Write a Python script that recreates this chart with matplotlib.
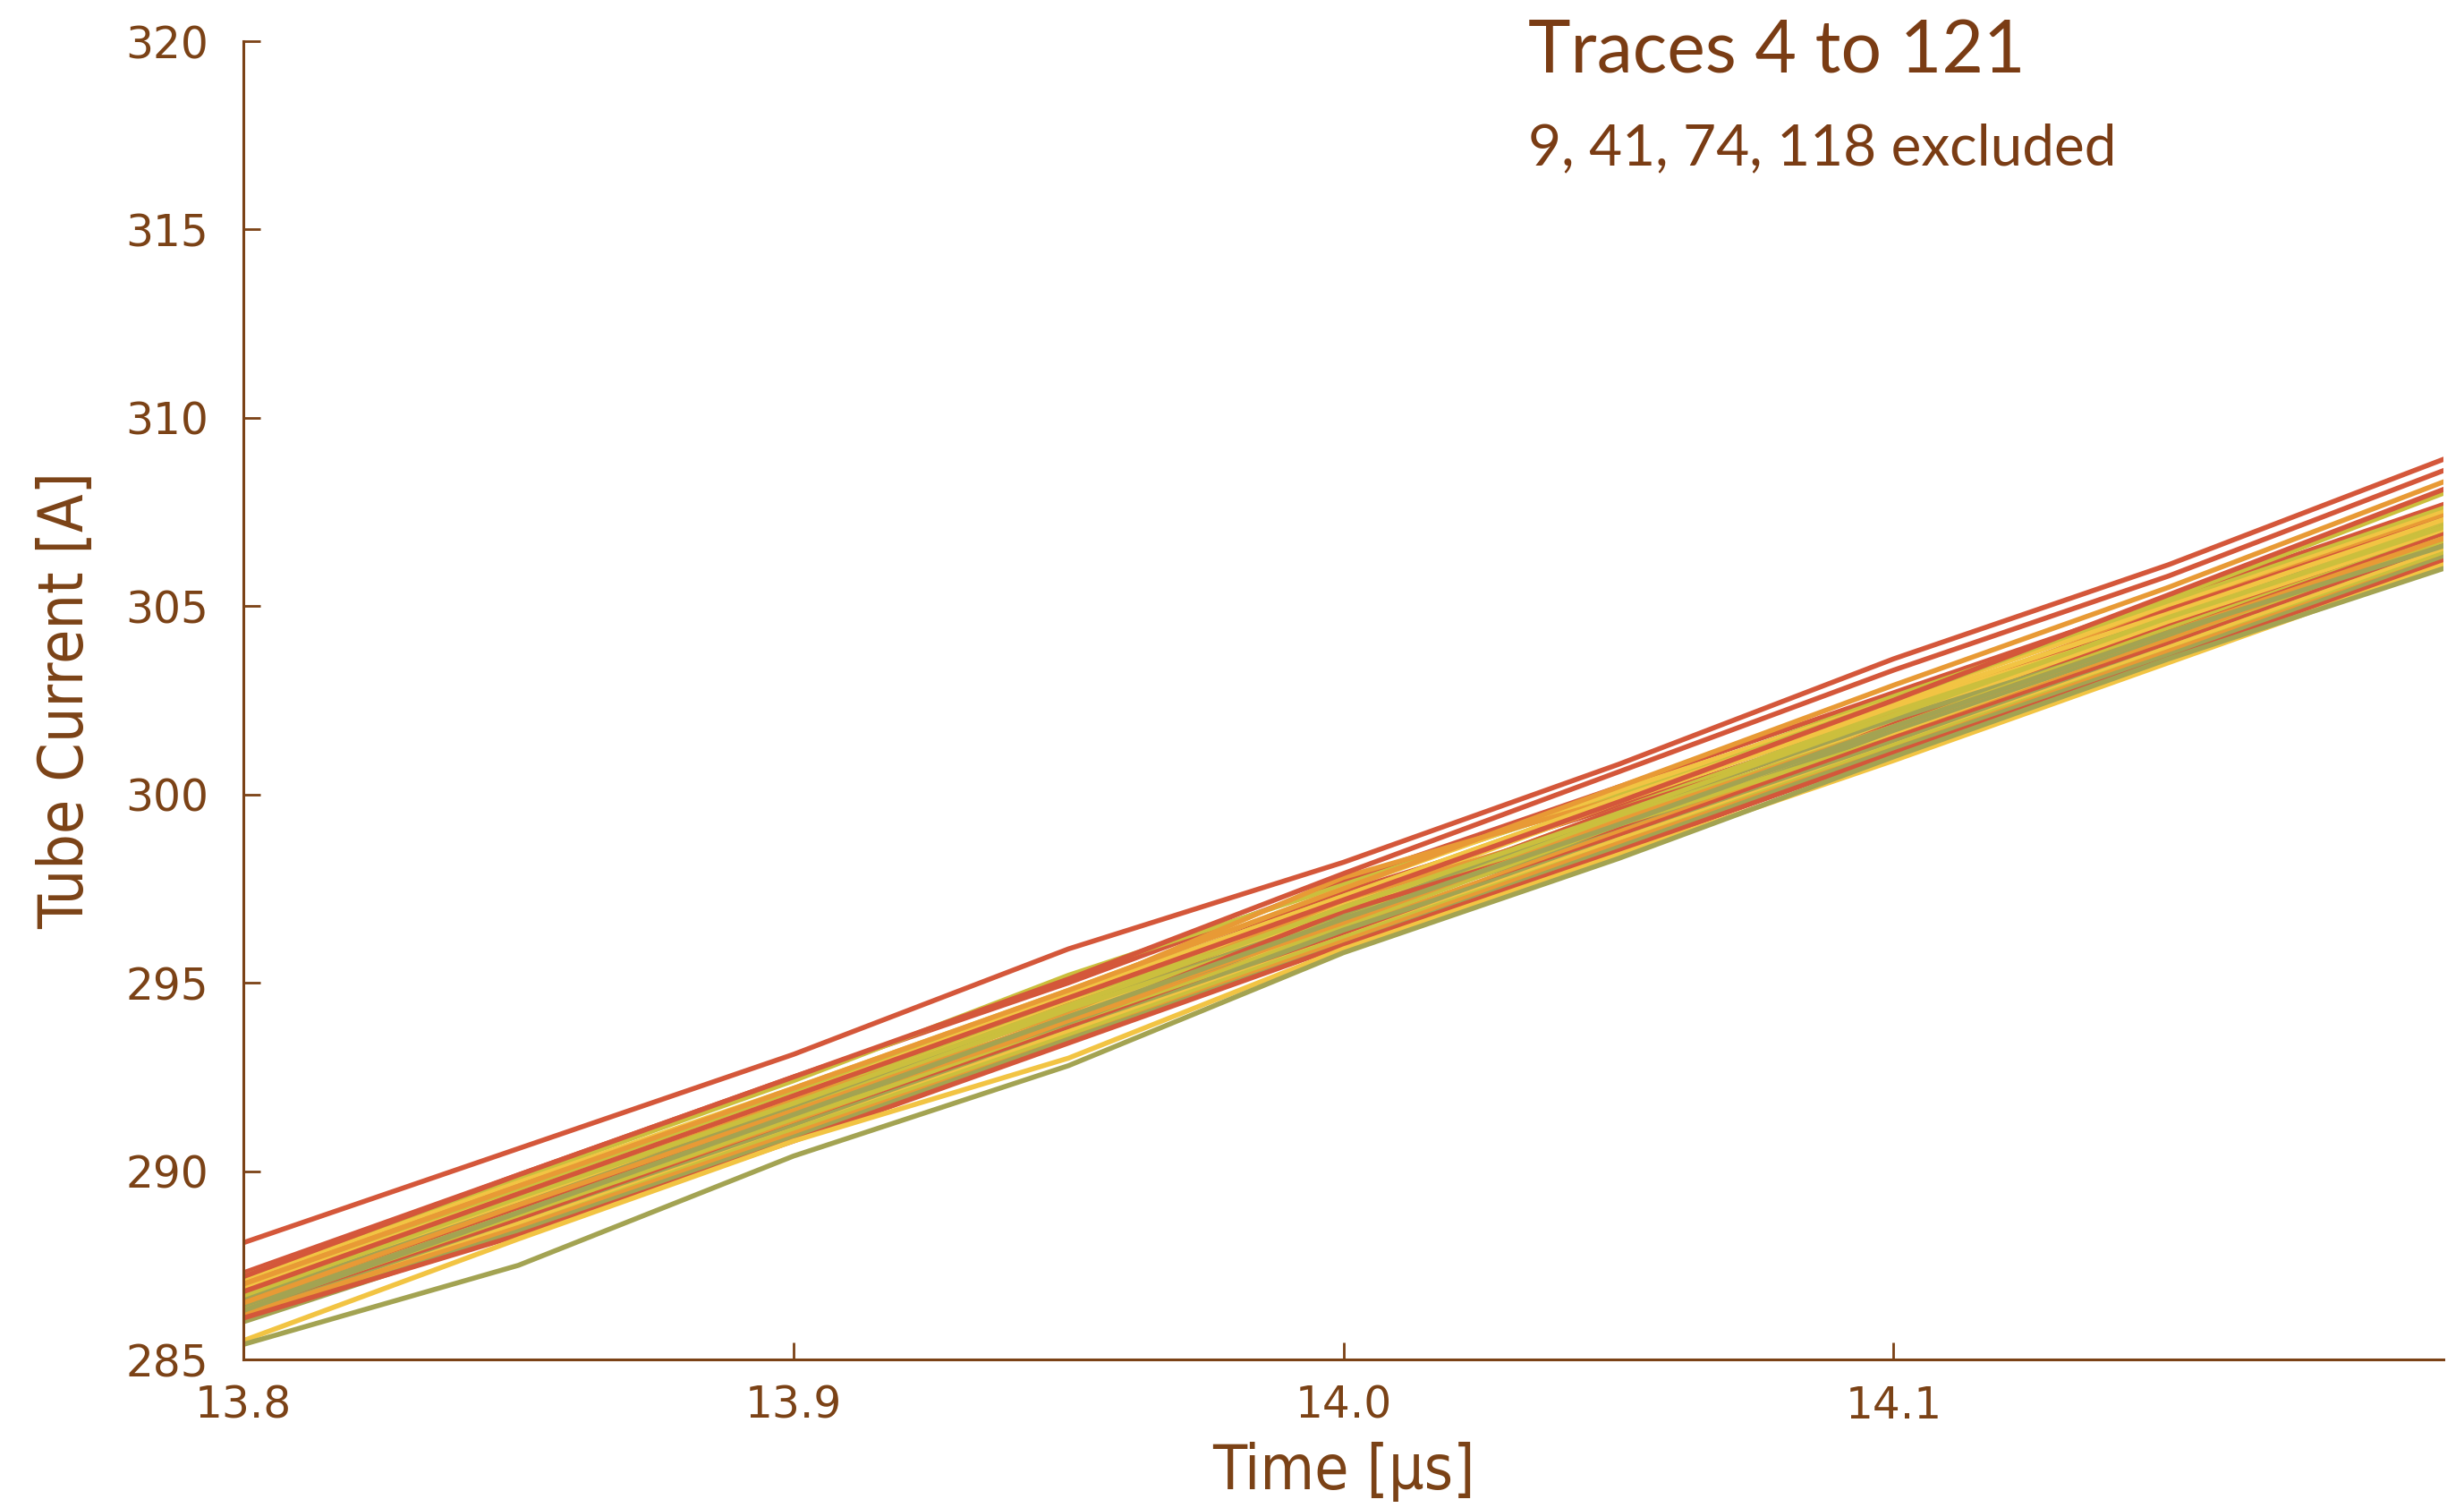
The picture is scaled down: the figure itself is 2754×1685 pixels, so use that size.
import numpy as np
import matplotlib.pyplot as plt

# time samples [us]
t = [13.80, 13.85, 13.90, 13.95, 14.00, 14.05, 14.10, 14.15, 14.20]

# tube current traces [A], one row per trace
traces = [
    [287.3, 289.9, 292.5, 295.0, 297.7, 300.2, 302.7, 305.2, 307.7],
    [287.2, 289.8, 292.4, 295.2, 297.6, 300.0, 302.6, 305.1, 307.6],
    [287.1, 289.7, 292.2, 294.8, 297.5, 300.1, 302.5, 305.0, 307.5],
    [287.0, 289.6, 292.1, 294.7, 297.8, 299.9, 302.3, 304.9, 307.4],
    [286.9, 289.4, 292.0, 294.5, 297.2, 299.9, 302.2, 304.7, 307.3],
    [286.9, 289.5, 292.1, 294.6, 297.4, 299.7, 302.1, 304.9, 307.3],
    [286.8, 289.3, 291.9, 294.5, 297.1, 299.8, 302.3, 304.6, 307.2],
    [286.8, 289.4, 291.9, 294.6, 296.9, 299.6, 302.2, 304.6, 307.2],
    [286.7, 289.2, 291.8, 294.3, 297.0, 299.5, 302.0, 304.5, 307.1],
    [286.7, 289.2, 291.9, 294.2, 297.2, 299.4, 302.1, 304.4, 307.1],
    [286.6, 289.1, 291.7, 294.4, 296.9, 299.6, 301.9, 304.5, 307.0],
    [286.6, 289.2, 291.6, 294.1, 297.0, 299.2, 302.0, 304.6, 307.0],
    [286.6, 289.1, 291.7, 294.3, 296.8, 299.5, 302.0, 304.3, 306.9],
    [286.5, 289.0, 291.6, 294.3, 296.7, 299.4, 301.8, 304.4, 306.9],
    [286.5, 289.0, 291.5, 294.0, 296.9, 299.1, 301.7, 304.3, 306.9],
    [286.4, 288.9, 291.4, 294.0, 296.5, 299.3, 301.6, 304.2, 306.8],
    [286.4, 288.9, 291.5, 293.9, 296.7, 299.0, 301.7, 304.2, 306.8],
    [286.3, 288.8, 291.3, 294.0, 296.4, 299.0, 301.5, 304.1, 306.7],
    [286.3, 288.8, 291.4, 293.8, 296.5, 299.2, 301.5, 304.0, 306.7],
    [286.2, 288.7, 291.2, 293.8, 296.3, 298.9, 301.5, 304.0, 306.6],
    [286.2, 288.6, 291.2, 293.7, 296.4, 298.8, 301.4, 303.9, 306.5],
    [286.1, 288.6, 291.1, 293.7, 296.2, 298.8, 301.3, 303.9, 306.5],
    [286.1, 288.5, 291.1, 293.6, 296.2, 298.7, 301.3, 303.8, 306.4],
    [286.2, 288.5, 291.0, 293.5, 296.1, 298.7, 301.2, 303.8, 306.3],
    [286.0, 288.4, 290.9, 293.5, 296.0, 298.6, 301.2, 303.7, 306.3],
    [286.1, 288.3, 290.8, 293.4, 296.0, 298.5, 301.1, 303.6, 306.2],
    [285.5, 288.2, 290.8, 293.0, 295.9, 298.4, 300.9, 303.5, 306.1],
    [286.9, 289.5, 292.1, 294.7, 297.3, 299.9, 302.5, 305.2, 308.0],
    [286.9, 289.4, 292.0, 294.7, 297.3, 299.9, 302.4, 304.8, 307.3],
    [286.5, 289.1, 291.6, 294.1, 296.6, 299.3, 301.8, 304.3, 306.8],
    [286.7, 289.3, 291.8, 294.4, 297.0, 299.5, 302.1, 304.7, 307.1],
    [286.3, 288.9, 291.5, 294.1, 296.7, 299.2, 301.8, 304.3, 306.6],
    [285.4, 287.5, 290.4, 292.8, 295.8, 298.3, 301.0, 303.6, 306.0],
    [286.8, 289.4, 292.0, 294.6, 297.2, 299.8, 302.5, 305.3, 308.1],
    [287.0, 289.6, 292.2, 294.8, 297.5, 300.2, 302.9, 305.5, 308.3],
    [287.2, 289.9, 292.5, 295.1, 297.9, 300.6, 303.3, 305.8, 308.6],
    [288.1, 290.6, 293.1, 295.9, 298.2, 300.8, 303.6, 306.1, 308.9],
]

# colour of each trace: r red, o orange, y yellow, g yellow-green, v olive
trace_colors = ['r', 'g', 'y', 'o', 'v', 'r', 'y', 'g', 'v', 'o',
                'r', 'y', 'v', 'g', 'r', 'y', 'v', 'o', 'g', 'r',
                'v', 'y', 'g', 'o', 'v', 'r', 'y', 'g', 'y', 'o',
                'g', 'v', 'v', 'r', 'o', 'r', 'r']

palette = {'r': '#d4573a', 'o': '#e89a35', 'y': '#f2c443',
           'g': '#cbbf3d', 'v': '#a3a352'}
brown = '#7b4216'

plt.rcParams['font.family'] = 'DejaVu Sans'

fig = plt.figure(figsize=(13.77, 8.425), dpi=200)
ax = fig.add_axes([0.0988, 0.0985, 0.8929, 0.8742])

for y, c in zip(traces, trace_colors):
    ax.plot(t, y, color=palette[c], lw=2.0)

ax.set_xlim(13.8, 14.2)
ax.set_ylim(285, 320)
ax.set_xticks([13.8, 13.9, 14.0, 14.1])
ax.set_xticklabels(['13.8', '13.9', '14.0', '14.1'])
ax.set_yticks(np.arange(285, 321, 5))

for s in ['top', 'right']:
    ax.spines[s].set_visible(False)
for s in ['left', 'bottom']:
    ax.spines[s].set_color(brown)
    ax.spines[s].set_linewidth(1.1)

ax.tick_params(axis='both', direction='in', length=7, width=1.0, color=brown,
               labelcolor=brown, labelsize=17.5)
ax.tick_params(axis='y', pad=14)
ax.tick_params(axis='x', pad=10)

ax.set_xlabel('Time [µs]', fontsize=25, color=brown, fontstretch='condensed', labelpad=6)
ax.set_ylabel('Tube Current [A]', fontsize=25, color=brown, fontstretch='condensed', labelpad=12)

ax.text(0.584, 0.976, 'Traces 4 to 121', transform=ax.transAxes, fontsize=29,
        color='#7a3c14', family='Lato', va='baseline')
ax.text(0.584, 0.906, '9, 41, 74, 118 excluded', transform=ax.transAxes, fontsize=23,
        color='#7a3c14', family='Lato', va='baseline')

fig.savefig('out.png', dpi=200)
